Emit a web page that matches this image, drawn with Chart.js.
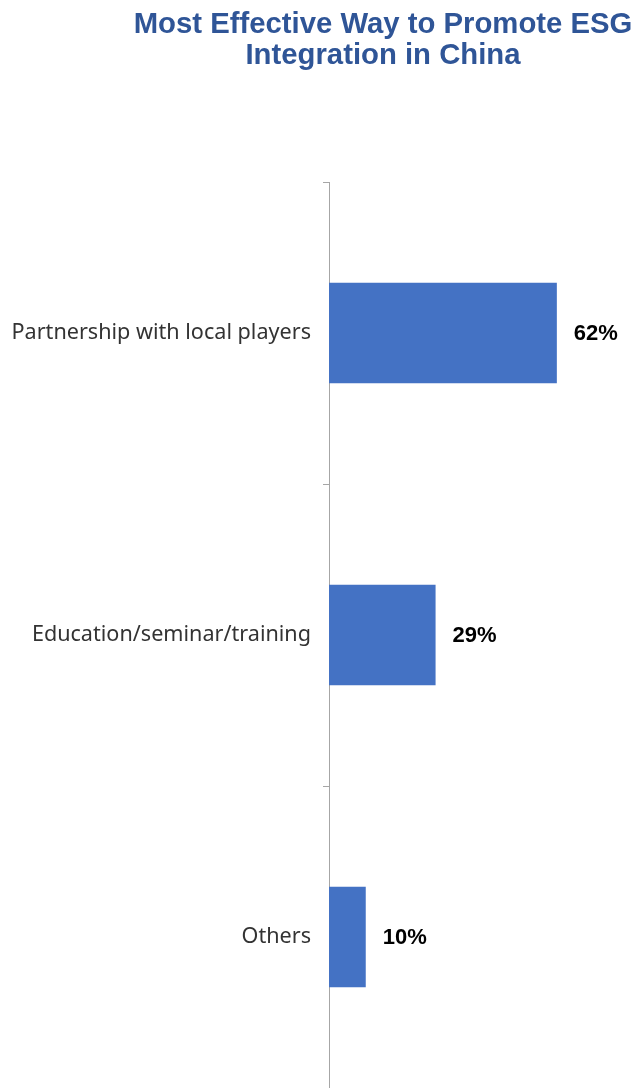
<!DOCTYPE html>
<html>
<head>
<meta charset="utf-8">
<script src="https://cdn.jsdelivr.net/npm/chart.js@4.4.1/dist/chart.umd.min.js"></script>
<style>
  html, body { margin: 0; padding: 0; background: #ffffff; }
  #wrap { position: relative; width: 636px; height: 1088px; }
  #title {
    position: absolute; left: 130px; width: 506px; top: 7px;
    text-align: center; font: bold 29.3px "Liberation Sans", Arial, sans-serif;
    line-height: 31px; color: #2F5597; margin: 0;
  }
  canvas { position: absolute; left: 0; top: 0; }
</style>
</head>
<body>
<div id="wrap">
  <canvas id="chart" width="636" height="1088"></canvas>
  <h1 id="title">Most Effective Way to Promote ESG<br>Integration in China</h1>
</div>
<script>
// Survey answers and their share of respondents (%)
const categories = ['Partnership with local players', 'Education/seminar/training', 'Others'];
const shares = [62, 29, 10];
const valueLabels = ['62%', '29%', '10%'];

// Writes each share to the right of its bar
const barValueLabels = {
  id: 'barValueLabels',
  afterDatasetsDraw(chart) {
    const ctx = chart.ctx;
    const meta = chart.getDatasetMeta(0);
    ctx.save();
    ctx.font = 'bold 22px "Liberation Sans", Arial, sans-serif';
    ctx.fillStyle = '#000000';
    ctx.textAlign = 'left';
    ctx.textBaseline = 'middle';
    meta.data.forEach((bar, i) => {
      ctx.fillText(valueLabels[i], bar.x + 17, bar.y + 1);
    });
    ctx.restore();
  }
};

new Chart(document.getElementById('chart'), {
  type: 'bar',
  data: {
    labels: categories,
    datasets: [{
      data: shares,
      backgroundColor: '#4472C4',
      borderWidth: 0,
      categoryPercentage: 1,
      barPercentage: 0.332
    }]
  },
  options: {
    indexAxis: 'y',
    responsive: false,
    animation: false,
    layout: { padding: { top: 182, bottom: 0, right: 13, left: 0 } },
    plugins: {
      legend: { display: false },
      tooltip: { enabled: false },
      title: { display: false }
    },
    scales: {
      x: {
        display: false,
        min: 0,
        max: 80
      },
      y: {
        afterFit(scale) {
          scale.width = 329;
          // let the axis run to the bottom edge of the canvas
          scale.paddingTop = 0;
          scale.paddingBottom = 0;
        },
        grid: {
          display: true,
          drawOnChartArea: false,
          drawTicks: true,
          tickLength: 6,
          color: '#A6A6A6',
          offset: true
        },
        border: { display: true, color: '#A6A6A6', width: 1 },
        ticks: {
          color: '#333333',
          padding: 12,
          font: { family: '"Noto Sans", sans-serif', size: 21.6 }
        }
      }
    }
  },
  plugins: [barValueLabels]
});
</script>
</body>
</html>
